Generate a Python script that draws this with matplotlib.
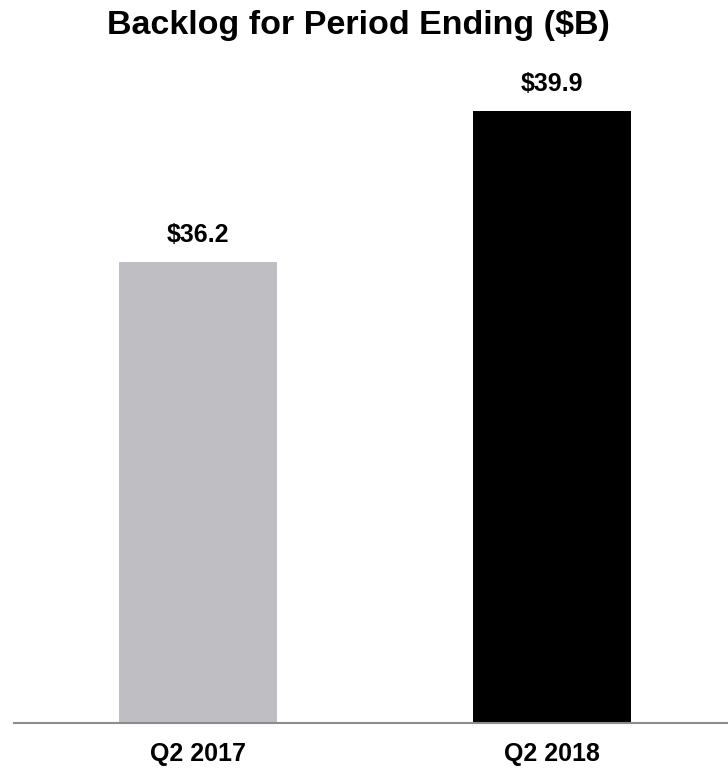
import matplotlib
matplotlib.use("Agg")
import matplotlib.pyplot as plt

categories = ["Q2 2017", "Q2 2018"]
values = [36.2, 39.9]
labels = ["$36.2", "$39.9"]
colors = ["#BFBEC3", "#000000"]
title = "Backlog for Period Ending ($B)"

plt.rcParams['font.family'] = ['Liberation Sans', 'DejaVu Sans']

W, H = 728, 769
fig = plt.figure(figsize=(W/100, H/100), dpi=100)
ax = fig.add_axes([14/W, (H-723)/H, 1 - 14/W, (723-60)/H])

x = list(range(len(categories)))
ax.bar(x, values, width=0.446, color=colors, zorder=2)
ax.set_xlim(-0.52, 1.497)
ax.set_ylim(24.9, 41.15)

for xi, v, lab in zip(x, values, labels):
    ax.annotate(lab, (xi, v), xytext=(0, 11), textcoords='offset points',
                ha='center', va='bottom', fontsize=18, fontweight='bold')

for s in ['top', 'right', 'left']:
    ax.spines[s].set_visible(False)
ax.spines['bottom'].set_color('#8C8C8C')
ax.spines['bottom'].set_linewidth(1.5)
ax.set_yticks([])
ax.set_xticks(x)
ax.set_xticklabels(categories, fontsize=18, fontweight='bold')
ax.tick_params(axis='x', length=0, pad=14)

fig.text(358/W, 1 - 34/H, title, ha='center', va='baseline',
         fontsize=24.5, fontweight='bold')

fig.savefig("out.png", dpi=100)
